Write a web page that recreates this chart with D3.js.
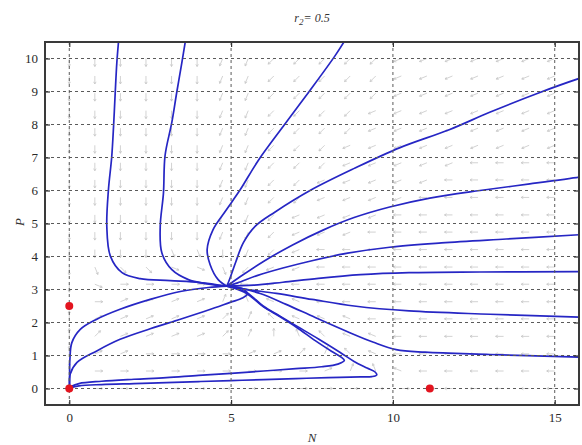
<!DOCTYPE html>
<html>
<head>
<meta charset="utf-8">
<script src="https://cdn.jsdelivr.net/npm/d3@7"></script>
<style>
body { margin: 0; background: #fff; }
svg { display: block; font-family: "Liberation Serif", "Times New Roman", serif; }
</style>
</head>
<body>
<svg id="chart" width="582" height="445"></svg>
<script>
// axis ticks
var xTicks = [0, 5, 10, 15];
var yTicks = [0, 1, 2, 3, 4, 5, 6, 7, 8, 9, 10];

// equilibria (red dots)
var fixedPoints = [[0, 0], [0, 2.5], [11.14, 0]];

// direction field lattice
var arrowN = [0, 0.79, 1.58, 2.37, 3.16, 3.95, 4.74, 5.53, 6.32, 7.11, 7.89, 8.68, 9.47, 10.26, 11.05, 11.84, 12.63, 13.42, 14.21, 15];
var arrowP = [10, 9.47, 8.95, 8.42, 7.89, 7.37, 6.84, 6.32, 5.79, 5.26, 4.74, 4.21, 3.68, 3.16, 2.63, 2.11, 1.58, 1.05, 0.53, 0];
// one char per arrow, a = east, then 22.5 deg steps anticlockwise; '.' = none
var arrowDirs = [
	'mmmmmmllkkkkkjjjjjjj',
	'mmmmmmllkkkkkjjjjjjj',
	'mmmmmmllkkkkkjjjjjjj',
	'mmmmmmllkkkkjjjjjjjj',
	'mmmmmmllkkkkjjjjjjjj',
	'mmmmmmllkkkjjjjjjjjj',
	'mmmmmmllkkkjjjjjiiii',
	'mmmmmmllkkjjjjjiiiii',
	'mmmmmmllkkjjjjiiiiii',
	'mmmmmmllkjjjjiiiiiii',
	'mmmmmmllkjjjiiiiiiii',
	'mmmmnnmlkjiiiiiiiiii',
	'mnooppnkjjiiiiiiiiii',
	'mpaaaaaiiiiiiiiiiiii',
	'mabbbbdfhhiiiiiiiiii',
	'ebbbbbcdghhhiiiiiiii',
	'ecbbbbcdefghhiiiiiii',
	'ebbaaaabbcdghiiiiiii',
	'eaaaaaaaaabdfhiiiiii',
	'.aaaaaaaaaaaaaaiiiii'
];

// trajectories [N, P]
var trajTopLeft = [[1.53, 10.6], [1.47, 9.88], [1.42, 8.97], [1.37, 7.97], [1.31, 7.0], [1.21, 6.02], [1.16, 4.91], [1.27, 4.01], [1.63, 3.51], [2.19, 3.33], [3.12, 3.27], [4.04, 3.21], [4.87, 3.1]];
var trajTopMid = [[3.6, 10.6], [3.48, 9.88], [3.32, 8.97], [3.17, 8.07], [2.96, 7.06], [2.91, 5.92], [2.81, 4.91], [2.86, 4.11], [3.17, 3.6], [3.68, 3.3], [4.2, 3.18], [4.87, 3.1]];
var trajTopRight = [[8.55, 10.6], [8.21, 10.08], [7.39, 8.97], [6.67, 8.02], [5.84, 6.91], [5.28, 6.02], [4.85, 5.41], [4.44, 4.81], [4.26, 4.21], [4.35, 3.76], [4.6, 3.3], [4.87, 3.1]];
var trajRight1 = [[16, 9.47], [15.77, 9.4], [14.54, 8.97], [12.99, 8.37], [11.76, 7.85], [10.22, 7.3], [8.83, 6.68], [7.44, 6.0], [6.36, 5.35], [5.75, 4.92], [5.38, 4.42], [5.15, 3.85], [4.98, 3.38], [4.87, 3.1]];
var trajRight2 = [[16, 6.45], [15.77, 6.41], [14.23, 6.2], [12.69, 6.0], [11.14, 5.77], [9.9, 5.5], [8.8, 5.18], [7.84, 4.8], [6.9, 4.35], [6.0, 3.85], [5.3, 3.4], [4.87, 3.1]];
var trajRight3 = [[16, 4.67], [15.77, 4.66], [13.5, 4.53], [11.5, 4.41], [9.9, 4.28], [8.6, 4.1], [7.53, 3.88], [6.6, 3.65], [5.8, 3.42], [5.2, 3.2], [4.87, 3.1]];
var trajRight4 = [[16, 3.54], [15.77, 3.54], [12.69, 3.53], [10.5, 3.51], [9, 3.45], [7.7, 3.34], [6.6, 3.22], [5.7, 3.13], [4.87, 3.1]];
var trajRight5 = [[16, 2.15], [15.77, 2.16], [13, 2.25], [10.5, 2.35], [8.8, 2.5], [7.5, 2.7], [6.4, 2.88], [5.5, 3.0], [4.87, 3.1]];
var trajRight6 = [[16, 0.94], [15.77, 0.95], [13, 1.03], [11, 1.1], [10.1, 1.18], [9.4, 1.4], [8.6, 1.72], [7.6, 2.15], [6.7, 2.55], [5.9, 2.88], [5.2, 3.06], [4.87, 3.1]];
var trajLoopBig = [[0.02, 0.02], [0.3, 0.08], [1, 0.12], [2, 0.15], [3, 0.18], [4, 0.21], [5, 0.24], [6, 0.27], [7, 0.3], [8, 0.33], [9, 0.35], [9.35, 0.36], [9.5, 0.41], [9.45, 0.5], [9.2, 0.62], [8.8, 0.82], [8.36, 1.1], [7.7, 1.5], [7.03, 1.89], [6.5, 2.2], [5.99, 2.5], [5.48, 2.91], [4.97, 3.08], [4.87, 3.1]];
var trajLoopSmall = [[0.03, 0.05], [0.3, 0.15], [1, 0.22], [2, 0.28], [3, 0.33], [4, 0.4], [5, 0.46], [6, 0.53], [7, 0.6], [7.8, 0.66], [8.3, 0.74], [8.5, 0.85], [8.4, 0.95], [8.1, 1.13], [7.6, 1.45], [7.03, 1.85], [6.5, 2.18], [5.99, 2.48], [5.48, 2.88], [4.97, 3.08], [4.87, 3.1]];
var trajLowUpper = [[0.01, 0.05], [0.01, 0.4], [0.02, 0.89], [0.08, 1.39], [0.34, 1.79], [0.85, 2.1], [1.57, 2.4], [2.5, 2.7], [3.43, 2.94], [4.3, 3.06], [4.87, 3.1]];
var trajLowLower = [[0.01, 0.05], [0.03, 0.44], [0.24, 0.79], [0.85, 1.14], [1.57, 1.49], [2.5, 1.81], [3.43, 2.1], [4.3, 2.38], [4.97, 2.61], [5.35, 2.74], [5.5, 2.86], [5.4, 3.0], [5.06, 3.09], [4.87, 3.1]];

var trajectories = [trajTopLeft, trajTopMid, trajTopRight, trajRight1, trajRight2, trajRight3, trajRight4,
	trajRight5, trajRight6, trajLoopBig, trajLoopSmall, trajLowUpper, trajLowLower];

(function draw() {
	'use strict';

	var svg = d3.select('#chart'),
		pLeft = 45, pRight = 579, pTop = 42, pBottom = 405,
		x = d3.scaleLinear().domain([-0.75, 15.75]).range([pLeft, pRight]),
		y = d3.scaleLinear().domain([-0.5, 10.5]).range([pBottom, pTop]);

	svg.append('rect').attr('width', 582).attr('height', 445).attr('fill', '#fff');
	svg.append('clipPath').attr('id', 'plot-clip')
		.append('rect').attr('x', pLeft).attr('y', pTop).attr('width', pRight - pLeft).attr('height', pBottom - pTop);

	var plot = svg.append('g').attr('clip-path', 'url(#plot-clip)');

	// direction field, faint
	var codes = 'abcdefghijklmnop', len = 8, head = 2.5;
	var arrows = plot.append('g').attr('stroke', '#c6c6c6').attr('stroke-width', 0.8).attr('fill', 'none');
	arrowDirs.forEach(function(row, j) {
		row.split('').forEach(function(c, k) {
			if (c === '.') return;
			var a = codes.indexOf(c) * 22.5 * Math.PI / 180,
				x0 = x(arrowN[k]), y0 = y(arrowP[j]),
				x1 = x0 + len * Math.cos(a), y1 = y0 - len * Math.sin(a),
				h1 = a + Math.PI * 5 / 6, h2 = a - Math.PI * 5 / 6;
			arrows.append('path').attr('d',
				'M' + x0 + ',' + y0 + 'L' + x1 + ',' + y1 +
				'M' + (x1 + head * Math.cos(h1)) + ',' + (y1 - head * Math.sin(h1)) + 'L' + x1 + ',' + y1 +
				'L' + (x1 + head * Math.cos(h2)) + ',' + (y1 - head * Math.sin(h2)));
		});
	});

	// dotted grid
	var grid = svg.append('g').attr('stroke', '#5a5a5a').attr('stroke-width', 1).attr('stroke-dasharray', '3,3');
	grid.selectAll('line.v').data(xTicks).enter().append('line')
		.attr('x1', function(d) { return x(d); }).attr('x2', function(d) { return x(d); })
		.attr('y1', pTop).attr('y2', pBottom);
	grid.selectAll('line.h').data(yTicks).enter().append('line')
		.attr('y1', function(d) { return y(d); }).attr('y2', function(d) { return y(d); })
		.attr('x1', pLeft).attr('x2', pRight);

	// trajectories
	var line = d3.line()
		.x(function(d) { return x(d[0]); })
		.y(function(d) { return y(d[1]); })
		.curve(d3.curveCatmullRom.alpha(0.5));
	plot.append('g').selectAll('path').data(trajectories).enter().append('path')
		.attr('d', line)
		.attr('fill', 'none')
		.attr('stroke', '#2626c4')
		.attr('stroke-width', 1.7)
		.attr('stroke-linejoin', 'round');

	// equilibria
	svg.append('g').selectAll('circle').data(fixedPoints).enter().append('circle')
		.attr('cx', function(d) { return x(d[0]); })
		.attr('cy', function(d) { return y(d[1]); })
		.attr('r', 4)
		.attr('fill', '#e3141f');

	// axes with inward ticks
	function styleAxis(g) {
		g.select('.domain').remove();
		g.selectAll('.tick line').attr('stroke', '#333').attr('stroke-width', 1.2);
		g.selectAll('.tick text').attr('fill', '#2a2a2a').attr('font-size', 13)
			.attr('font-family', '"Liberation Serif", "Times New Roman", serif');
	}
	svg.append('g').attr('transform', 'translate(0,' + pBottom + ')')
		.call(d3.axisBottom(x).tickValues(xTicks).tickSize(-5).tickPadding(8)).call(styleAxis);
	svg.append('g').attr('transform', 'translate(0,' + pTop + ')')
		.call(d3.axisTop(x).tickValues(xTicks).tickSize(-5).tickFormat('')).call(styleAxis);
	svg.append('g').attr('transform', 'translate(' + pLeft + ',0)')
		.call(d3.axisLeft(y).tickValues(yTicks).tickSize(-5).tickPadding(7)).call(styleAxis);
	svg.append('g').attr('transform', 'translate(' + pRight + ',0)')
		.call(d3.axisRight(y).tickValues(yTicks).tickSize(-5).tickFormat('')).call(styleAxis);

	svg.append('rect')
		.attr('x', pLeft).attr('y', pTop).attr('width', pRight - pLeft).attr('height', pBottom - pTop)
		.attr('fill', 'none').attr('stroke', '#3a3a3a').attr('stroke-width', 2);

	// labels
	var title = svg.append('text').attr('x', 312).attr('y', 22).attr('text-anchor', 'middle')
		.attr('font-size', 12).attr('font-style', 'italic').attr('fill', '#333');
	title.append('tspan').text('r');
	title.append('tspan').attr('font-size', 9).attr('dy', 3).text('2');
	title.append('tspan').attr('dy', -3).text('= 0.5');

	svg.append('text').attr('x', 312).attr('y', 442).attr('text-anchor', 'middle')
		.attr('font-size', 13).attr('font-style', 'italic').attr('fill', '#333').text('N');
	svg.append('text').attr('transform', 'translate(24,222) rotate(-90)').attr('text-anchor', 'middle')
		.attr('font-size', 13).attr('font-style', 'italic').attr('fill', '#333').text('P');
})();
</script>
</body>
</html>
